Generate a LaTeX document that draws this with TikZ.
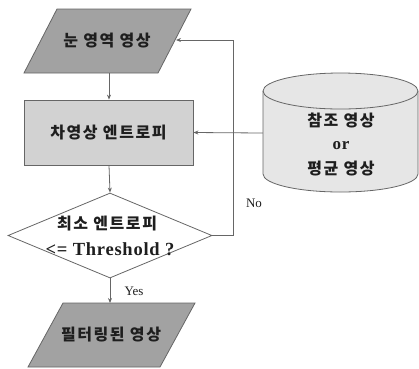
\documentclass[tikz,border=0pt]{standalone}
\usepackage{fontspec}
\setmainfont{Liberation Serif}
\newfontfamily\kr[LetterSpace=10]{Noto Sans CJK KR}
\newfontfamily\lat[LetterSpace=4]{Liberation Serif}
\usetikzlibrary{shapes.geometric,arrows.meta}
\definecolor{lc}{HTML}{666666}
\definecolor{dark}{HTML}{A2A2A2}
\definecolor{mid}{HTML}{D2D2D2}
\definecolor{light}{HTML}{E6E6E6}
\definecolor{txt}{HTML}{1E1E1E}
\tikzset{
  shp/.style={draw=lc, line width=0.8pt},
  krt/.style={font=\kr\bfseries\fontsize{16}{26}\selectfont, text=txt, align=center},
  labt/.style={font=\fontsize{13}{15}\selectfont, text=txt},
  conn/.style={draw=lc, line width=0.8pt, -{Stealth[length=5pt,width=4pt]}}
}
\begin{document}
\begin{tikzpicture}[x=1pt,y=-1pt]
\useasboundingbox (0,0) rectangle (419,368);
% top parallelogram
\fill[dark] (24,73) -- (57,9) -- (191,9) -- (158,73) -- cycle;
\draw[shp] (24,73) -- (57,9) -- (191,9) -- (158,73) -- cycle;
\node[krt, minimum width=100pt, minimum height=64pt, inner sep=0] (top) at (107,41) {눈 영역 영상};
\coordinate (topin) at (176,40);
% rectangle
\node[shp, fill=mid, krt, minimum width=169pt, minimum height=65pt, inner sep=0] (ent) at (108.5,132.5) {차영상 엔트로피};
% diamond
\node[shp, diamond, fill=white, minimum width=204pt, minimum height=85pt, inner sep=0] (dec) at (110,235.5) {};
\node[krt, inner sep=0] (dect1) at (107,224) {최소 엔트로피};
\node[font=\lat\bfseries\fontsize{18.5}{20}\selectfont, text=txt, inner sep=0] (dect2) at (110,249) {<= Threshold ?};
% bottom parallelogram
\fill[dark] (28,367) -- (63,303) -- (195,303) -- (160,367) -- cycle;
\draw[shp] (28,367) -- (63,303) -- (195,303) -- (160,367) -- cycle;
\node[krt, minimum width=100pt, minimum height=64pt, inner sep=0] (out) at (111,335) {필터링된 영상};
% cylinder
\fill[light] (263,91) -- (263,174) arc[start angle=180, end angle=360, x radius=77.5pt, y radius=18pt] -- (418,91) arc[start angle=0, end angle=180, x radius=77.5pt, y radius=18pt] -- cycle;
\draw[shp] (263,91) -- (263,174) arc[start angle=180, end angle=360, x radius=77.5pt, y radius=18pt] -- (418,91);
\draw[shp] (340.5,91) ellipse[x radius=77.5pt, y radius=18pt];
\node[minimum width=155pt, minimum height=80pt, inner sep=0] (db) at (340.5,133) {};
\node[krt, inner sep=0] (db1) at (341,120) {참조 영상};
\node[font=\lat\bfseries\fontsize{17}{18}\selectfont, text=txt, inner sep=0] (db2) at (341,146) {or};
\node[krt, inner sep=0] (db3) at (341,169) {평균 영상};
% connectors
\draw[conn] (109,73) -- (ent.north -| 109,0);
\draw[conn] (ent.south -| 109,0) -- (dec.north);
\draw[conn] (dec.south) -- (110,303);
\draw[conn] (db.west) -- (ent.east);
\draw[conn] (dec.east) -- (233,235.5) |- (topin);
\node[labt] (yes) at (134,291) {Yes};
\node[labt] (no) at (254,203) {No};
\end{tikzpicture}
\end{document}
